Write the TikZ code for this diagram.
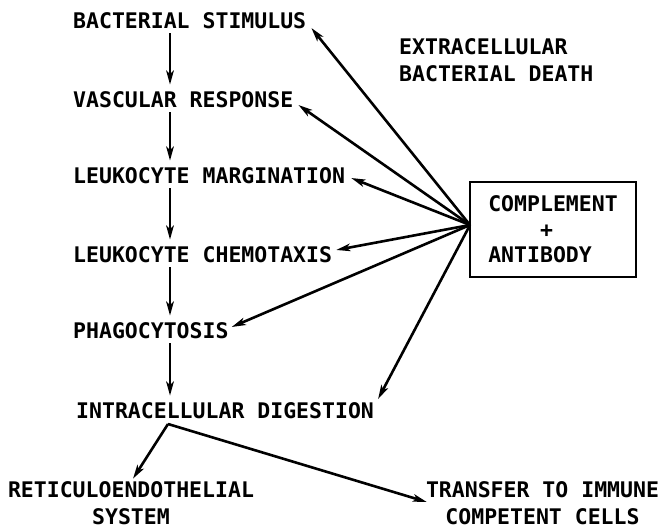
\documentclass[tikz,border=0pt]{standalone}
\usepackage{fontspec}
\setmainfont{DejaVu Sans Mono}
\usetikzlibrary{arrows.meta}
\begin{document}
\begin{tikzpicture}[x=1pt,y=-1pt,
  lbl/.style={inner sep=0pt, font=\fontsize{21.5}{27}\selectfont\bfseries},
  arr/.style={line width=2.6pt, -{Stealth[length=14pt,width=7.5pt,inset=3.5pt]}},
  vert/.style={arr, shorten <=4pt, shorten >=7pt}]
\useasboundingbox (0,0) rectangle (660,529);
\node[lbl, anchor=west] (bs) at (73,21) {BACTERIAL STIMULUS};
\node[lbl, anchor=west] (vr) at (73,100) {VASCULAR RESPONSE};
\node[lbl, anchor=west] (lm) at (73,176) {LEUKOCYTE MARGINATION};
\node[lbl, anchor=west] (lc) at (73,255) {LEUKOCYTE CHEMOTAXIS};
\node[lbl, anchor=west] (ph) at (73,331) {PHAGOCYTOSIS};
\node[lbl, anchor=west] (id) at (76,411) {INTRACELLULAR DIGESTION};
\node[lbl, align=center] (re) at (131,503.5) {RETICULOENDOTHELIAL\\SYSTEM};
\node[lbl, align=center] (tr) at (542.5,503) {TRANSFER TO IMMUNE\\COMPETENT CELLS};
\node[lbl, align=left, anchor=west] (ex) at (399,60.5) {EXTRACELLULAR\\BACTERIAL DEATH};
\node[lbl, draw, line width=2.2pt, inner sep=0pt, minimum width=166pt, minimum height=95pt,
      align=left, font=\fontsize{21.5}{25.5}\selectfont\bfseries] (box) at (553,229.5)
      {COMPLEMENT\\\phantom{COMP}+\\ANTIBODY};
\coordinate (hub) at (470,225);
\coordinate (vx) at (170,0);
\coordinate (split) at (168,424);
% vertical chain
\draw[vert] (bs.south -| vx) -- (vr.north -| vx);
\draw[vert] (vr.south -| vx) -- (lm.north -| vx);
\draw[vert] (lm.south -| vx) -- (lc.north -| vx);
\draw[vert] (lc.south -| vx) -- (ph.north -| vx);
\draw[vert] (ph.south -| vx) -- (id.north -| vx);
% from complement + antibody
\draw[arr] (hub) -- ([xshift=5pt,yshift=-7pt]bs.east);
\draw[arr] (hub) -- ([xshift=5pt,yshift=-5pt]vr.east);
\draw[arr] (hub) -- ([xshift=6pt,yshift=-2pt]lm.east);
\draw[arr] (hub) -- ([xshift=4pt,yshift=5pt]lc.east);
\draw[arr] (hub) -- ([xshift=3pt,yshift=4pt]ph.east);
\draw[arr] (hub) -- ([xshift=4pt,yshift=12pt]id.east);
% split at bottom
\draw[arr] (split) -- ([xshift=2pt,yshift=3pt]re.north);
\draw[arr] (split) -- ([xshift=1pt,yshift=1pt]tr.west);
\end{tikzpicture}
\end{document}
